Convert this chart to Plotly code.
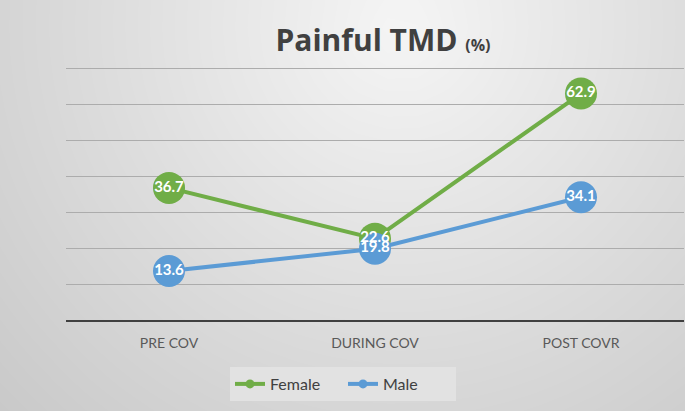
import numpy as np
import plotly.graph_objects as go

# ---- data ----
categories = ["PRE COV", "DURING COV", "POST COVR"]
female = [36.7, 22.6, 62.9]
male = [13.6, 19.8, 34.1]
series_names = ["Female", "Male"]

GREEN = "#70ad47"
BLUE = "#5b9bd5"
W, H = 685, 411

fig = go.Figure()

# ---- background radial gradient (style only) ----
gx = np.linspace(0, 1, 24)
gy = np.linspace(0, 1, 16)
cx, cy = 400 / W, 1 - 25 / H
XX, YY = np.meshgrid(gx, gy)
dist = np.sqrt(((XX - cx) * W) ** 2 + ((YY - cy) * H) ** 2)
dist = dist / dist.max()
fig.add_trace(go.Heatmap(
    x=gx, y=gy, z=dist, zsmooth="best", showscale=False, hoverinfo="skip",
    colorscale=[[0, "#f5f5f5"], [0.55, "#dcdcdc"], [1, "#c9c9c9"]],
    xaxis="x", yaxis="y", zmin=0, zmax=1,
))

# ---- series ----
for name, vals, col in [(series_names[0], female, GREEN), (series_names[1], male, BLUE)]:
    fig.add_trace(go.Scatter(
        x=categories, y=vals, name=name, mode="lines+markers",
        line=dict(color=col, width=4), legendgroup=name, showlegend=False,
        marker=dict(size=32, color=col),
        xaxis="x2", yaxis="y2",
    ))
    # legend entry with a small marker, as in the reference
    fig.add_trace(go.Scatter(
        x=[None], y=[None], name=name, mode="lines+markers", legendgroup=name,
        line=dict(color=col, width=4), marker=dict(size=9, color=col),
        xaxis="x2", yaxis="y2", hoverinfo="skip",
    ))
for vals in [female, male]:
    fig.add_trace(go.Scatter(
        x=categories, y=vals, mode="text", text=[f"{v:.1f}" for v in vals],
        textposition="middle center", showlegend=False, hoverinfo="skip",
        textfont=dict(family="Lato", size=15, color="white", weight="bold"),
        xaxis="x2", yaxis="y2",
    ))

YMAX = 70.3
fig.update_layout(
    width=W, height=H,
    margin=dict(l=0, r=0, t=0, b=0),
    paper_bgcolor="#d6d6d6",
    plot_bgcolor="rgba(0,0,0,0)",
    xaxis=dict(domain=[0, 1], range=[0, 1], visible=False, fixedrange=True),
    yaxis=dict(domain=[0, 1], range=[0, 1], visible=False, fixedrange=True),
    xaxis2=dict(
        domain=[66 / W, 684 / W], anchor="y2", type="category",
        range=[-0.5, 2.5], showgrid=False, showline=True, linecolor="#404040",
        linewidth=2, ticks="", zeroline=False, ticklabelstandoff=9,
        tickfont=dict(family="Lato", size=14, color="#595959"),
    ),
    yaxis2=dict(
        domain=[1 - 320 / H, 1 - (320 - 252 * YMAX / 70) / H], anchor="x2",
        range=[0, YMAX],
        dtick=10, showgrid=True, gridcolor="#acacac", gridwidth=1,
        showticklabels=False, zeroline=False, showline=False, ticks="",
    ),
    title=dict(
        text="<b>Painful TMD <span style='font-size:16px'>(%)</span></b>",
        x=383 / W, xanchor="center", y=1 - 40 / H, yanchor="middle",
        font=dict(family="Open Sans", size=30, color="#404040"),
    ),
    legend=dict(
        orientation="h", x=230 / W, xanchor="left", y=1 - 367 / H, yanchor="top",
        bgcolor="#e2e2e2", font=dict(family="Lato", size=16, color="#404040"),
        itemwidth=30, entrywidth=68, entrywidthmode="pixels",
    ),
    showlegend=True,
)

fig.write_html(
    "out.html",
    config={"displayModeBar": False},
    post_script="document.body.style.margin='0';document.body.style.padding='0';window.dispatchEvent(new Event('resize'));",
)
